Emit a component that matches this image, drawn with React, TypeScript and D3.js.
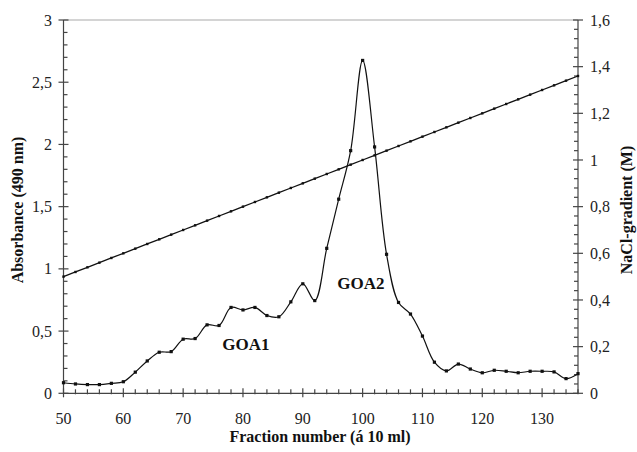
import * as d3 from "d3";

const fractions = [
  50, 52, 54, 56, 58, 60, 62, 64, 66, 68, 70, 72, 74, 76, 78, 80, 82, 84, 86, 88, 90, 92,
  94, 96, 98, 100, 102, 104, 106, 108, 110, 112, 114, 116, 118, 120, 122, 124, 126, 128,
  130, 132, 134, 136,
];

// absorbance at 490 nm
const absorbance = [
  0.085, 0.075, 0.07, 0.07, 0.08, 0.093, 0.17, 0.26, 0.33, 0.335, 0.435, 0.44, 0.55, 0.545,
  0.69, 0.67, 0.69, 0.625, 0.615, 0.735, 0.88, 0.745, 1.165, 1.56, 1.95, 2.675, 1.98, 1.117,
  0.73, 0.637, 0.46, 0.25, 0.18, 0.235, 0.195, 0.165, 0.185, 0.177, 0.165, 0.177, 0.177,
  0.172, 0.118, 0.158,
];

// NaCl gradient (M)
const gradient = [
  0.5, 0.52, 0.54, 0.56, 0.58, 0.6, 0.62, 0.64, 0.66, 0.68, 0.7, 0.72, 0.74, 0.76, 0.78,
  0.8, 0.82, 0.84, 0.86, 0.88, 0.9, 0.92, 0.94, 0.96, 0.98, 1.0, 1.02, 1.04, 1.06, 1.08,
  1.1, 1.12, 1.14, 1.16, 1.18, 1.2, 1.22, 1.24, 1.26, 1.28, 1.3, 1.32, 1.34, 1.36,
];

const xTicks = [50, 60, 70, 80, 90, 100, 110, 120, 130];
const leftTicks = [0, 0.5, 1, 1.5, 2, 2.5, 3];
const rightTicks = [0, 0.2, 0.4, 0.6, 0.8, 1, 1.2, 1.4, 1.6];

const peakLabels = [
  { text: "GOA1", fraction: 80.5, value: 0.345 },
  { text: "GOA2", fraction: 99.7, value: 0.84 },
];

const fmt = d3.formatLocale({ decimal: ",", thousands: ".", grouping: [3], currency: ["", ""] }).format("~g");

const font = "Liberation Serif, DejaVu Serif, serif";

export default function App() {
  const width = 637;
  const height = 452;
  const left = 63.5;
  const right = 578;
  const top = 20;
  const bottom = 393.3;
  const axisColor = "#444";

  const x = d3.scaleLinear().domain([50, 136]).range([left, right]);
  const yL = d3.scaleLinear().domain([0, 3]).range([bottom, top]);
  const yR = d3.scaleLinear().domain([0, 1.6]).range([bottom, top]);

  const absLine = d3
    .line<number>()
    .x((_, i) => x(fractions[i]))
    .y((d) => yL(d))
    .curve(d3.curveCatmullRom.alpha(0.5));

  const gradLine = d3
    .line<number>()
    .x((_, i) => x(fractions[i]))
    .y((d) => yR(d));

  const xMinor = d3.range(52, 137, 2).filter((v) => v % 10 !== 0);
  const leftMinor = d3.range(1, 30).filter((v) => v % 5 !== 0).map((v) => v / 10);
  const rightMinor = d3.range(1, 40).filter((v) => v % 5 !== 0).map((v) => v * 0.04);

  return (
    <svg
      width={width}
      height={height}
      style={{ position: "absolute", left: 0, top: 0, background: "#fff", fontFamily: font }}
    >
      {/* top border */}
      <line x1={left} x2={right} y1={top} y2={top} stroke="#aaa" strokeWidth={1.2} />

      {/* axes */}
      <g stroke={axisColor} strokeWidth={1.2}>
        <line x1={left} x2={left} y1={top} y2={bottom} />
        <line x1={right} x2={right} y1={top} y2={bottom} />
        <line x1={left} x2={right} y1={bottom} y2={bottom} />
        {leftTicks.map((t) => (
          <line key={"lt" + t} x1={left - 5} x2={left + 5} y1={yL(t)} y2={yL(t)} />
        ))}
        {leftMinor.map((t) => (
          <line key={"lm" + t} x1={left} x2={left + 4} y1={yL(t)} y2={yL(t)} />
        ))}
        {rightTicks.map((t) => (
          <line key={"rt" + t} x1={right - 5} x2={right + 5} y1={yR(t)} y2={yR(t)} />
        ))}
        {rightMinor.map((t) => (
          <line key={"rm" + t} x1={right - 4} x2={right} y1={yR(t)} y2={yR(t)} />
        ))}
        {xTicks.map((t) => (
          <line key={"xt" + t} x1={x(t)} x2={x(t)} y1={bottom - 5} y2={bottom + 4} />
        ))}
        {xMinor.map((t) => (
          <line key={"xm" + t} x1={x(t)} x2={x(t)} y1={bottom - 4} y2={bottom + 1} />
        ))}
      </g>

      {/* tick labels */}
      <g fontSize={16} fill="#222" style={{ fontFamily: font }}>
        {leftTicks.map((t) => (
          <text key={"ll" + t} x={52} y={yL(t)} dy="0.35em" textAnchor="end">
            {fmt(t)}
          </text>
        ))}
        {rightTicks.map((t) => (
          <text key={"rl" + t} x={590} y={yR(t)} dy="0.35em" textAnchor="start">
            {fmt(t)}
          </text>
        ))}
        {xTicks.map((t) => (
          <text key={"xl" + t} x={x(t)} y={424} textAnchor="middle">
            {t}
          </text>
        ))}
      </g>

      {/* axis titles */}
      <g fontSize={16} fontWeight="bold" fill="#111" style={{ fontFamily: font }}>
        <text x={320} y={442} textAnchor="middle">
          Fraction number (á 10 ml)
        </text>
        <text transform="translate(23,210) rotate(-90)" textAnchor="middle">
          Absorbance (490 nm)
        </text>
        <text transform="translate(632,210) rotate(-90)" textAnchor="middle">
          NaCl-gradient (M)
        </text>
      </g>

      {/* NaCl gradient */}
      <path d={gradLine(gradient) ?? ""} fill="none" stroke="#111" strokeWidth={1.3} />
      {gradient.map((g, i) => (
        <rect key={"g" + i} x={x(fractions[i]) - 1.2} y={yR(g) - 1.2} width={2.4} height={2.4} fill="#111" />
      ))}

      {/* absorbance */}
      <path d={absLine(absorbance) ?? ""} fill="none" stroke="#111" strokeWidth={1.2} />
      {absorbance.map((a, i) => (
        <rect key={"a" + i} x={x(fractions[i]) - 1.6} y={yL(a) - 1.6} width={3.2} height={3.2} fill="#111" />
      ))}

      {/* peak labels */}
      <g fontSize={17} fontWeight="bold" fill="#111" style={{ fontFamily: font }}>
        {peakLabels.map((p) => (
          <text key={p.text} x={x(p.fraction)} y={yL(p.value)} textAnchor="middle">
            {p.text}
          </text>
        ))}
      </g>
    </svg>
  );
}
